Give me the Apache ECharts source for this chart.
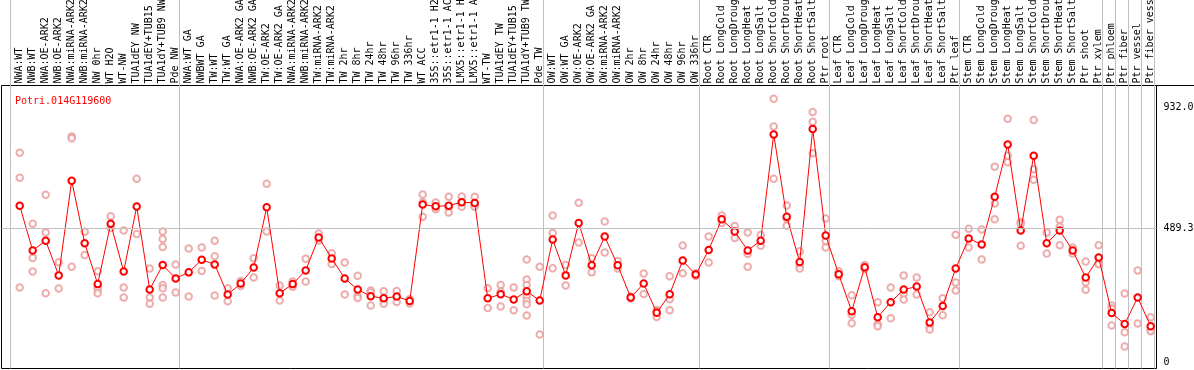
<!DOCTYPE html>
<html><head><meta charset="utf-8">
<script src="https://cdn.jsdelivr.net/npm/echarts@6/dist/echarts.min.js"></script>
<style>html,body{margin:0;padding:0;background:#fff}#c{width:1194px;height:370px}</style>
</head><body><div id="c"></div>
<script>
const geneId = 'Potri.014G119600';
const categories = [
 'NWA:WT','NWB:WT','NWA:OE-ARK2','NWB:OE-ARK2','NWA:miRNA-ARK2','NWB:miRNA-ARK2','NW 0hr','WT H2O','WT-NW','TUA1dEY NW','TUA1dEY+TUB15','TUA1dY+TUB9 NW','Pde NW',
 'NWA:WT GA','NWBWT GA','TW:WT','TW:WT GA','NWA:OE-ARK2 GA','NWB:OE-ARK2 GA','TW:OE-ARK2','TW:OE-ARK2 GA','NWA:miRNA-ARK2','NWB:miRNA-ARK2','TW:miRNA-ARK2','TW:miRNA-ARK2',
 'TW 2hr','TW 8hr','TW 24hr','TW 48hr','TW 96hr','TW 336hr','WT ACC','35S::etr1-1 H2','35S::etr1-1 AC','LMX5::etr1-1 H','LMX5::etr1-1 A','WT-TW','TUA1dEY TW','TUA1dEY+TUB15','TUA1dY+TUB9 TW','Pde TW',
 'OW:WT','OW:WT GA','OW:OE-ARK2','OW:OE-ARK2 GA','OW:miRNA-ARK2','OW:miRNA-ARK2','OW 2hr','OW 8hr','OW 24hr','OW 48hr','OW 96hr','OW 336hr',
 'Root CTR','Root LongCold','Root LongDroug','Root LongHeat','Root LongSalt','Root ShortCold','Root ShortDrou','Root ShortHeat','Root ShortSalt','Ptr root',
 'Leaf CTR','Leaf LongCold','Leaf LongDroug','Leaf LongHeat','Leaf LongSalt','Leaf ShortCold','Leaf ShortDrou','Leaf ShortHeat','Leaf ShortSalt','Ptr leaf',
 'Stem CTR','Stem LongCold','Stem LongDroug','Stem LongHeat','Stem LongSalt','Stem ShortCold','Stem ShortDrou','Stem ShortHeat','Stem ShortSalt','Ptr shoot','Ptr xylem',
 'Ptr phloem','Ptr fiber','Ptr vessel','Ptr fiber vess'
];
const means = [
 572,408,444,317,663,435,285,506,331,569,265,355,306,
 328,374,357,247,287,346,566,252,285,335,456,379,306,265,241,233,240,223,576,570,572,585,582,233,248,229,259,225,
 448,317,509,354,459,354,236,287,180,248,371,320,
 410,522,478,408,444,833,532,366,853,463,
 321,186,347,164,219,265,276,145,205,342,
 452,430,605,796,481,755,435,481,408,309,382,
 179,139,236,131
];
const replicates = [
 [766,674,273],[506,381,331],[612,474,252],[365,269],[825,819,349],[477,392],[332,275,265,252],[533,490],[481,273,236],[671,468],[342,236,213],[478,450,421,282,270,236],[357,254],
 [415,240],[419,333],[444,387,243],[270,222],[296,278],[380,309],[652,478],[280,225],[295,275],[378,295],[470,445],[398,359],[364,247],[316,242,234],[262,254,207],[259,226,213],[260,220],[230,214],[613,585,532],[584,567,559],[605,565,547],[606,585,568],[605,572,568],[270,198],[282,258,203],[273,189],[375,302,282,241,224,211,170],[349,101],
 [536,472,343],[355,280],[583,437],[380,328],[514,401],[370,342],[240,232],[324,249],[190,185,165],[314,230,189],[426,325],[325,315],
 [459,364],[536,509],[498,454],[474,396,349],[465,425],[963,862,671],[573,525,499],[405,351,342],[915,879,764],[525,442,419],
 [332,314],[244,173,142],[355,340],[219,139,131],[273,160],[317,250,229],[309,247],[182,129,119],[233,171],[466,291,262],
 [488,419],[485,375],[715,580,522],[890,755,731],[512,506,425],[886,705,667],[474,397],[521,495,427],[419,397],[368,292,264],[427,361,358],
 [207,196,134],[251,109,57],[335,141],[164,117,113]
];
const groupBoundaries = [0,13,41,53,63,73,84,85,86,87,88];
const yTickValues = [0, 489.3, 932];
const yTickLabels = ['0', '489.3', '932.0'];
const refLineValue = 489.3;

const FONT = 'DejaVu Sans Mono';
const Y_MIN = -23.8, Y_MAX = 1011.9;
const FRAME_TOP = 85.5, FRAME_BOTTOM = 1.5;

const repData = [];
replicates.forEach((arr, i) => arr.forEach(v => repData.push([i, v])));
const boundarySet = new Set(groupBoundaries);

const chart = echarts.init(document.getElementById('c'), null, {renderer: 'canvas'});
chart.setOption({
  animation: false,
  backgroundColor: '#fff',
  title: {text: geneId, left: 10, top: 91.5, textStyle: {color: '#ff0000', fontFamily: FONT, fontSize: 10, fontWeight: 'normal'}},
  grid: [
    {left: 1.5, right: 37.5, top: FRAME_TOP, bottom: FRAME_BOTTOM, show: true, borderColor: '#000', borderWidth: 1, backgroundColor: 'transparent', outerBoundsMode: 'none', containLabel: false},
    {left: 13.2, width: 1144, top: FRAME_TOP, bottom: FRAME_BOTTOM, outerBoundsMode: 'none', containLabel: false},
    {left: 10.5, width: 1144, top: 0, bottom: FRAME_BOTTOM, outerBoundsMode: 'none', containLabel: false}
  ],
  xAxis: [
    {gridIndex: 0, type: 'value', min: 0, max: 1, show: false},
    {gridIndex: 1, type: 'category', position: 'top', data: categories, boundaryGap: true,
     axisLine: {show: false}, axisTick: {show: false}, splitLine: {show: false},
     axisLabel: {interval: 0, rotate: 90, margin: 2, fontFamily: FONT, fontSize: 10, color: '#000'}},
    {gridIndex: 2, type: 'category', data: categories, boundaryGap: true, z: 1,
     axisLine: {show: false}, axisTick: {show: false}, axisLabel: {show: false},
     splitLine: {show: true, interval: (idx) => boundarySet.has(idx), lineStyle: {color: '#c0c0c0', width: 1, type: 'solid'}}}
  ],
  yAxis: [
    {gridIndex: 0, type: 'value', position: 'right', min: Y_MIN, max: Y_MAX,
     axisLine: {show: false}, axisTick: {show: false}, splitLine: {show: false},
     axisLabel: {customValues: yTickValues, margin: 7, fontFamily: FONT, fontSize: 10, color: '#000',
       formatter: v => { const k = yTickValues.indexOf(v); return k >= 0 ? yTickLabels[k] : ''; }}},
    {gridIndex: 1, type: 'value', min: Y_MIN, max: Y_MAX, show: false},
    {gridIndex: 2, type: 'value', min: 0, max: 1, show: false}
  ],
  series: [
    {type: 'line', xAxisIndex: 0, yAxisIndex: 0, data: [], silent: true,
     markLine: {silent: true, symbol: 'none', label: {show: false}, animation: false,
       lineStyle: {color: '#c0c0c0', type: 'solid', width: 1}, data: [{yAxis: refLineValue}]}},
    {type: 'scatter', xAxisIndex: 1, yAxisIndex: 1, data: repData, symbol: 'emptyCircle', symbolSize: 6.5,
     itemStyle: {color: '#e89898', borderWidth: 1.2}, z: 3, silent: true},
    {type: 'line', xAxisIndex: 1, yAxisIndex: 1, data: means, symbol: 'emptyCircle', symbolSize: 6.5, showAllSymbol: true,
     lineStyle: {color: '#ff0000', width: 1}, itemStyle: {color: '#ff0000', borderWidth: 2}, z: 4, silent: true}
  ],
  graphic: [
    {type: 'line', shape: {x1: 1156, y1: FRAME_TOP, x2: 1194, y2: FRAME_TOP}, style: {stroke: '#000', lineWidth: 1}, silent: true}
  ]
});
</script></body></html>
